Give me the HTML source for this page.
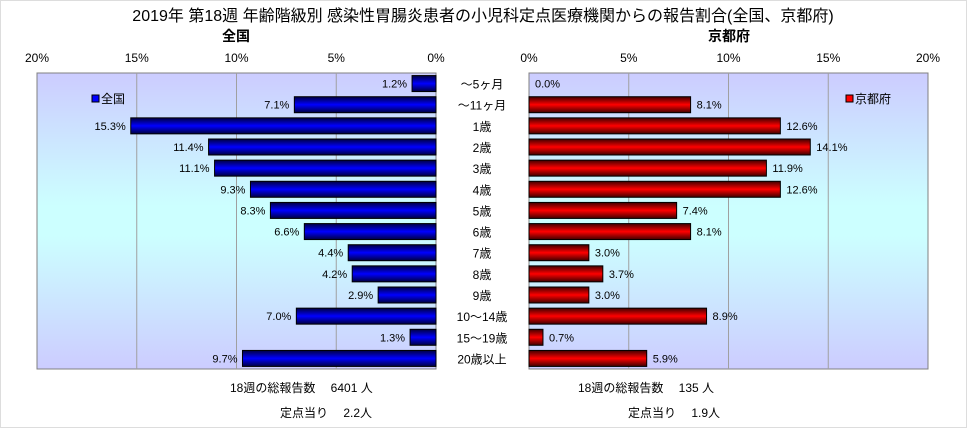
<!DOCTYPE html>
<html><head><meta charset="utf-8"><style>
body{margin:0;background:#fff;}
svg text{font-family:"Liberation Sans","Noto Sans CJK JP",sans-serif;}
</style></head><body>
<svg width="967" height="428" viewBox="0 0 967 428">
<defs>
<linearGradient id="bg" x1="0" y1="0" x2="0" y2="1">
<stop offset="0" stop-color="#ccccff"/><stop offset="0.45" stop-color="#ccffff"/><stop offset="0.55" stop-color="#ccffff"/><stop offset="1" stop-color="#ccccff"/></linearGradient>
<linearGradient id="gb" x1="0" y1="0" x2="0" y2="1"><stop offset="0" stop-color="#000040"/><stop offset="0.5" stop-color="#0000ff"/><stop offset="1" stop-color="#000040"/></linearGradient>
<linearGradient id="gr" x1="0" y1="0" x2="0" y2="1"><stop offset="0" stop-color="#400000"/><stop offset="0.5" stop-color="#ff0000"/><stop offset="1" stop-color="#400000"/></linearGradient>
</defs>
<rect x="0.5" y="0.5" width="966" height="427" fill="#fff" stroke="#ddd"/>
<text x="483" y="21" font-size="16" text-anchor="middle">2019年 第18週 年齢階級別 感染性胃腸炎患者の小児科定点医療機関からの報告割合(全国、京都府)</text>
<text x="236" y="41" font-size="14" font-weight="bold" text-anchor="middle">全国</text>
<text x="729" y="41" font-size="14" font-weight="bold" text-anchor="middle">京都府</text>
<rect x="37" y="73" width="399" height="296" fill="url(#bg)" stroke="#808080"/>
<rect x="529" y="73" width="399" height="296" fill="url(#bg)" stroke="#808080"/>
<g id="g"></g>
<rect x="92" y="95" width="7" height="7" fill="#0000ff" stroke="#000"/>
<text x="101" y="103" font-size="12">全国</text>
<rect x="846" y="95" width="7" height="7" fill="#ff0000" stroke="#000"/>
<text x="855" y="103" font-size="12">京都府</text>
<text x="230" y="392" font-size="12">18週の総報告数　  6401 人</text>
<text x="280" y="417" font-size="12">定点当り　  2.2人</text>
<text x="578" y="392" font-size="12">18週の総報告数　  135 人</text>
<text x="628" y="417" font-size="12">定点当り　  1.9人</text>
</svg>
<script>
const categories=["～5ヶ月","～11ヶ月","1歳","2歳","3歳","4歳","5歳","6歳","7歳","8歳","9歳","10～14歳","15～19歳","20歳以上"];
const national=[1.2,7.1,15.3,11.4,11.1,9.3,8.3,6.6,4.4,4.2,2.9,7.0,1.3,9.7];
const kyoto=[0.0,8.1,12.6,14.1,11.9,12.6,7.4,8.1,3.0,3.7,3.0,8.9,0.7,5.9];
const ticks=[0,5,10,15,20];
const NS="http://www.w3.org/2000/svg";
const g=document.getElementById('g');
const top0=73,slot=296/14,bh=16;
const xL=v=>436-v*399/20, xR=v=>529+v*399/20;
const yC=i=>top0+slot*(i+0.5);
function mk(t,a){const e=document.createElementNS(NS,t);for(const k in a)e.setAttribute(k,a[k]);g.appendChild(e);return e;}
ticks.forEach(t=>{
 if(t>0&&t<20){
  let l=mk('line',{x1:xL(t),x2:xL(t),y1:73,y2:369,stroke:'#a0a0a0'});
  
  
  let r=mk('line',{x1:xR(t),x2:xR(t),y1:73,y2:369,stroke:'#a0a0a0'});
  
  
 }
 let a=mk('text',{x:xL(t),y:62,'font-size':12,'text-anchor':'middle'});a.textContent=t+'%';
 
 
 let b=mk('text',{x:xR(t),y:62,'font-size':12,'text-anchor':'middle'});b.textContent=t+'%';
 
 
});
categories.forEach((c,i)=>{
 const y=yC(i);
 let t=mk('text',{x:482,y:y+5,'font-size':12,'text-anchor':'middle'});t.textContent=c;
 
 
 const v=national[i];
 let b=mk('rect',{x:xL(v),y:y-bh/2,width:436-xL(v),height:bh,fill:'url(#gb)',stroke:'#000'});
 
 
 let l=mk('text',{x:xL(v)-5,y:y+4,'font-size':11,'text-anchor':'end'});l.textContent=v.toFixed(1)+'%';
 
 
 const k=kyoto[i];
 if(k>0){let r=mk('rect',{x:529,y:y-bh/2,width:xR(k)-529,height:bh,fill:'url(#gr)',stroke:'#000'});
 
 }
 let m=mk('text',{x:xR(k)+6,y:y+4,'font-size':11});m.textContent=k.toFixed(1)+'%';
 
 
});
</script>
</body></html>
